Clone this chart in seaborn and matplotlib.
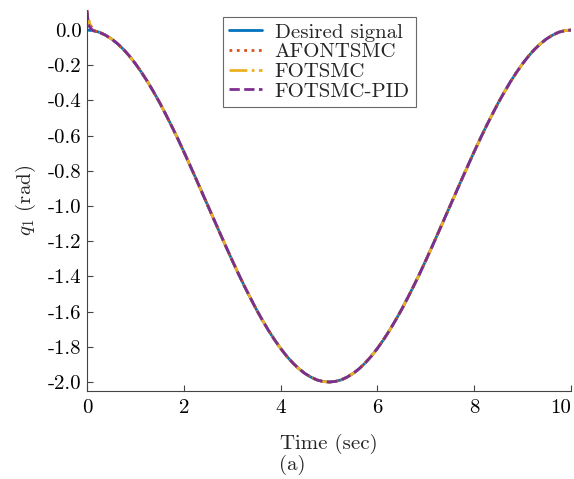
import numpy as np
import pandas as pd
import matplotlib
matplotlib.use("Agg")
import matplotlib.pyplot as plt
import seaborn as sns

# ---- data ----
t_desired = [0.0, 0.125, 0.25, 0.375, 0.5, 0.625, 0.75, 0.875, 1.0, 1.125, 1.25,
             1.375, 1.5, 1.625, 1.75, 1.875, 2.0, 2.125, 2.25, 2.375, 2.5, 2.625,
             2.75, 2.875, 3.0, 3.125, 3.25, 3.375, 3.5, 3.625, 3.75, 3.875, 4.0,
             4.125, 4.25, 4.375, 4.5, 4.625, 4.75, 4.875, 5.0, 5.125, 5.25, 5.375,
             5.5, 5.625, 5.75, 5.875, 6.0, 6.125, 6.25, 6.375, 6.5, 6.625, 6.75,
             6.875, 7.0, 7.125, 7.25, 7.375, 7.5, 7.625, 7.75, 7.875, 8.0, 8.125,
             8.25, 8.375, 8.5, 8.625, 8.75, 8.875, 9.0, 9.125, 9.25, 9.375, 9.5,
             9.625, 9.75, 9.875, 10.0]
q_desired = [0.0, -0.003, -0.012, -0.028, -0.049, -0.076, -0.109, -0.147, -0.191,
             -0.240, -0.293, -0.351, -0.412, -0.478, -0.546, -0.617, -0.691, -0.767,
             -0.844, -0.922, -1.0, -1.078, -1.156, -1.233, -1.309, -1.383, -1.454,
             -1.522, -1.588, -1.649, -1.707, -1.760, -1.809, -1.853, -1.891, -1.924,
             -1.951, -1.972, -1.988, -1.997, -2.0, -1.997, -1.988, -1.972, -1.951,
             -1.924, -1.891, -1.853, -1.809, -1.760, -1.707, -1.649, -1.588, -1.522,
             -1.454, -1.383, -1.309, -1.233, -1.156, -1.078, -1.0, -0.922, -0.844,
             -0.767, -0.691, -0.617, -0.546, -0.478, -0.412, -0.351, -0.293, -0.240,
             -0.191, -0.147, -0.109, -0.076, -0.049, -0.028, -0.012, -0.003, 0.0]

# initial transients of the controllers (t < 0.125)
t_head = [0.0, 0.015, 0.03, 0.05, 0.075, 0.1]
afontsmc_head = [0.10, 0.05, 0.07, 0.025, 0.03, 0.01]
fotsmc_head = [0.11, 0.06, 0.04, 0.045, 0.02, 0.01]
fotsmcpid_head = [0.115, 0.07, 0.035, 0.02, 0.01, 0.004]

names = ["Desired signal", "AFONTSMC", "FOTSMC", "FOTSMC-PID"]
colors = ["#0072BD", "#D95319", "#EDB120", "#7E2F8E"]
styles = ["-", ":", "-.", "--"]

ytick_vals = [0.0, -0.2, -0.4, -0.6, -0.8, -1.0, -1.2, -1.4, -1.6, -1.8, -2.0]
ytick_labels = ["0.0", "-0.2", "-0.4", "-0.6", "-0.8", "-1.0", "-1.2", "-1.4",
                "-1.6", "-1.8", "-2.0"]
xtick_vals = [0, 2, 4, 6, 8, 10]

sns.set_style("ticks")
plt.rcParams["font.family"] = "serif"
plt.rcParams["font.serif"] = ["cmr10", "DejaVu Serif"]
plt.rcParams["mathtext.fontset"] = "cm"
plt.rcParams["axes.unicode_minus"] = False
plt.rcParams["axes.formatter.use_mathtext"] = True

fig = plt.figure(figsize=(5.74, 4.79), dpi=100)
ax = fig.add_axes([87 / 574, 1 - 391 / 479, (571 - 87) / 574, (391 - 10) / 479])

series = [
    (t_desired, q_desired),
    (t_head + t_desired[1:], afontsmc_head + q_desired[1:]),
    (t_head + t_desired[1:], fotsmc_head + q_desired[1:]),
    (t_head + t_desired[1:], fotsmcpid_head + q_desired[1:]),
]
for (tt, qq), name, c, ls in zip(series, names, colors, styles):
    df = pd.DataFrame({"t": tt, "q": qq})
    sns.lineplot(data=df, x="t", y="q", ax=ax, color=c, linestyle=ls,
                 linewidth=2.0, label=name, sort=False)

ax.set_xlim(0, 10)
ax.set_ylim(-2.051, 0.114)
ax.set_xticks(xtick_vals)
ax.set_xticklabels([str(v) for v in xtick_vals])
ax.set_yticks(ytick_vals)
ax.set_yticklabels(ytick_labels)
ax.tick_params(direction="in", labelsize=15, length=4, width=0.8, colors="#444444",
               labelcolor="black")
ax.tick_params(axis="y", pad=4)
ax.tick_params(axis="x", pad=6)
ax.get_xticklabels()[-1].set_ha("right")
ax.get_xticklabels()[-1].set_x(10)
for s in ["top", "right"]:
    ax.spines[s].set_visible(False)
for s in ["left", "bottom"]:
    ax.spines[s].set_linewidth(0.8)
    ax.spines[s].set_color("#444444")

ax.set_xlabel("Time (sec)", fontsize=15, labelpad=12)
ax.set_ylabel(r"$q_1$ (rad)", fontsize=15, labelpad=7)

leg = ax.legend(loc="upper center", bbox_to_anchor=(0.48, 0.982), fontsize=15,
                frameon=True, fancybox=False, edgecolor="#444444",
                handlelength=1.6, borderpad=0.3, labelspacing=0.05,
                handletextpad=0.6, borderaxespad=0.0)
leg.get_frame().set_linewidth(0.8)

fig.text(292 / 574, 1 - 465 / 479, "(a)", ha="center", va="center", fontsize=15)

fig.savefig("out.png", dpi=100)
